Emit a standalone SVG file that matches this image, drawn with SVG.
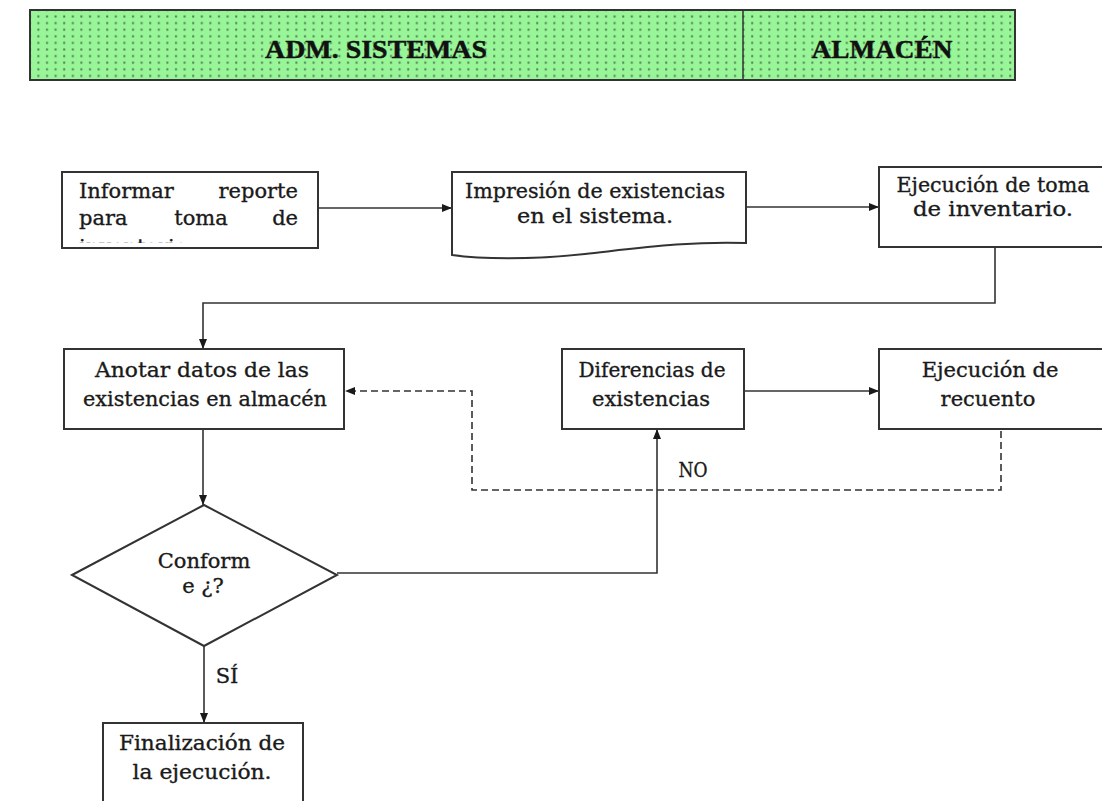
<svg xmlns="http://www.w3.org/2000/svg" width="1102" height="801" viewBox="0 0 1102 801">
  <defs>
    <pattern id="dots" width="8.6" height="6.6" patternUnits="userSpaceOnUse">
      <rect width="8.6" height="6.6" fill="#98f598"/>
      <rect x="3" y="2.3" width="2" height="2" fill="#4f7f4f"/>
    </pattern>
    <marker id="arrow" viewBox="0 0 10 8" refX="10" refY="4" markerWidth="10" markerHeight="8" markerUnits="userSpaceOnUse" orient="auto">
      <path d="M0,0 L10,4 L0,8 z" fill="#1a1a1a"/>
    </marker>
    <clipPath id="clip1">
      <rect x="64" y="174" width="252" height="69"/>
    </clipPath>
    <style>
      .box { fill: #ffffff; stroke: #333333; stroke-width: 2; }
      .lbl { font-family: "DejaVu Serif", "Liberation Serif", serif; font-size: 21px; fill: #1a1a1a; stroke: #1a1a1a; stroke-width: 0.35; }
      .mid { text-anchor: middle; }
      .hdr { font-family: "Liberation Serif", serif; font-size: 26px; font-weight: bold; fill: #111111; stroke: #111111; stroke-width: 0.4; text-anchor: middle; }
      .wire { fill: none; stroke: #333333; stroke-width: 1.6; }
      .dash { stroke-dasharray: 7 4; }
    </style>
  </defs>

  <!-- header band -->
  <g id="header">
    <rect x="30" y="10" width="985" height="70" fill="url(#dots)" stroke="#333333" stroke-width="2"/>
    <line x1="743" y1="10" x2="743" y2="80" stroke="#333333" stroke-width="1.5"/>
    <text class="hdr" x="376" y="58" textLength="222" lengthAdjust="spacingAndGlyphs">ADM. SISTEMAS</text>
    <text class="hdr" x="882" y="58" textLength="141" lengthAdjust="spacingAndGlyphs">ALMACÉN</text>
  </g>

  <!-- connectors -->
  <g id="connectors">
    <line class="wire" x1="318" y1="208" x2="452" y2="208" marker-end="url(#arrow)"/>
    <line class="wire" x1="746" y1="207" x2="879" y2="207" marker-end="url(#arrow)"/>
    <polyline class="wire" points="995,247 995,303 203,303 203,349" marker-end="url(#arrow)"/>
    <line class="wire" x1="744" y1="391" x2="879" y2="391" marker-end="url(#arrow)"/>
    <line class="wire" x1="203" y1="429" x2="203" y2="505" marker-end="url(#arrow)"/>
    <polyline class="wire" points="337,573 657,573 657,429" marker-end="url(#arrow)"/>
    <line class="wire" x1="204" y1="646" x2="204" y2="723" marker-end="url(#arrow)"/>
    <polyline class="wire dash" points="1001,431 1001,490 472,490 472,391 345,391" marker-end="url(#arrow)"/>
    <text class="lbl" x="693" y="477" font-size="17" text-anchor="middle" textLength="29" lengthAdjust="spacingAndGlyphs">NO</text>
    <text class="lbl" x="227" y="683" font-size="19" text-anchor="middle">SÍ</text>
  </g>

  <!-- process nodes -->
  <g id="informar">
    <rect class="box" x="62" y="172" width="256" height="76"/>
    <g clip-path="url(#clip1)">
      <text class="lbl" x="79" y="198">Informar</text>
      <text class="lbl" x="298" y="198" text-anchor="end">reporte</text>
      <text class="lbl" x="79" y="225">para</text>
      <text class="lbl" x="201" y="225" text-anchor="middle">toma</text>
      <text class="lbl" x="298" y="225" text-anchor="end">de</text>
      <text class="lbl" x="79" y="254">inventario</text>
    </g>
  </g>

  <g id="impresion">
    <path class="box" d="M452,172 H746 V243 C690,241 640,248 585,254 C530,260 480,259 452,255 Z"/>
    <text class="lbl mid" x="595" y="198" textLength="260" lengthAdjust="spacingAndGlyphs">Impresión de existencias</text>
    <text class="lbl mid" x="595" y="223" textLength="156" lengthAdjust="spacingAndGlyphs">en el sistema.</text>
  </g>

  <g id="ejecucion-toma">
    <rect class="box" x="879" y="167" width="235" height="80"/>
    <text class="lbl mid" x="993" y="192" textLength="193" lengthAdjust="spacingAndGlyphs">Ejecución de toma</text>
    <text class="lbl mid" x="993" y="216" textLength="160" lengthAdjust="spacingAndGlyphs">de inventario.</text>
  </g>

  <g id="anotar">
    <rect class="box" x="64" y="349" width="280" height="80"/>
    <text class="lbl mid" x="202" y="377" textLength="214" lengthAdjust="spacingAndGlyphs">Anotar datos de las</text>
    <text class="lbl mid" x="205" y="406" textLength="244" lengthAdjust="spacingAndGlyphs">existencias en almacén</text>
  </g>

  <g id="diferencias">
    <rect class="box" x="562" y="349" width="182" height="80"/>
    <text class="lbl mid" x="652" y="377" textLength="147" lengthAdjust="spacingAndGlyphs">Diferencias de</text>
    <text class="lbl mid" x="651" y="406">existencias</text>
  </g>

  <g id="recuento">
    <rect class="box" x="879" y="349" width="235" height="80"/>
    <text class="lbl mid" x="990" y="377">Ejecución de</text>
    <text class="lbl mid" x="988" y="406">recuento</text>
  </g>

  <g id="conforme">
    <polygon class="box" points="72,575 204,505 337,575 204,646"/>
    <text class="lbl mid" x="204" y="568">Conform</text>
    <text class="lbl mid" x="203" y="593">e ¿?</text>
  </g>

  <g id="finalizacion">
    <rect class="box" x="103" y="723" width="200" height="90"/>
    <text class="lbl mid" x="202" y="750" textLength="166" lengthAdjust="spacingAndGlyphs">Finalización de</text>
    <text class="lbl mid" x="202" y="779" textLength="139" lengthAdjust="spacingAndGlyphs">la ejecución.</text>
  </g>
</svg>
